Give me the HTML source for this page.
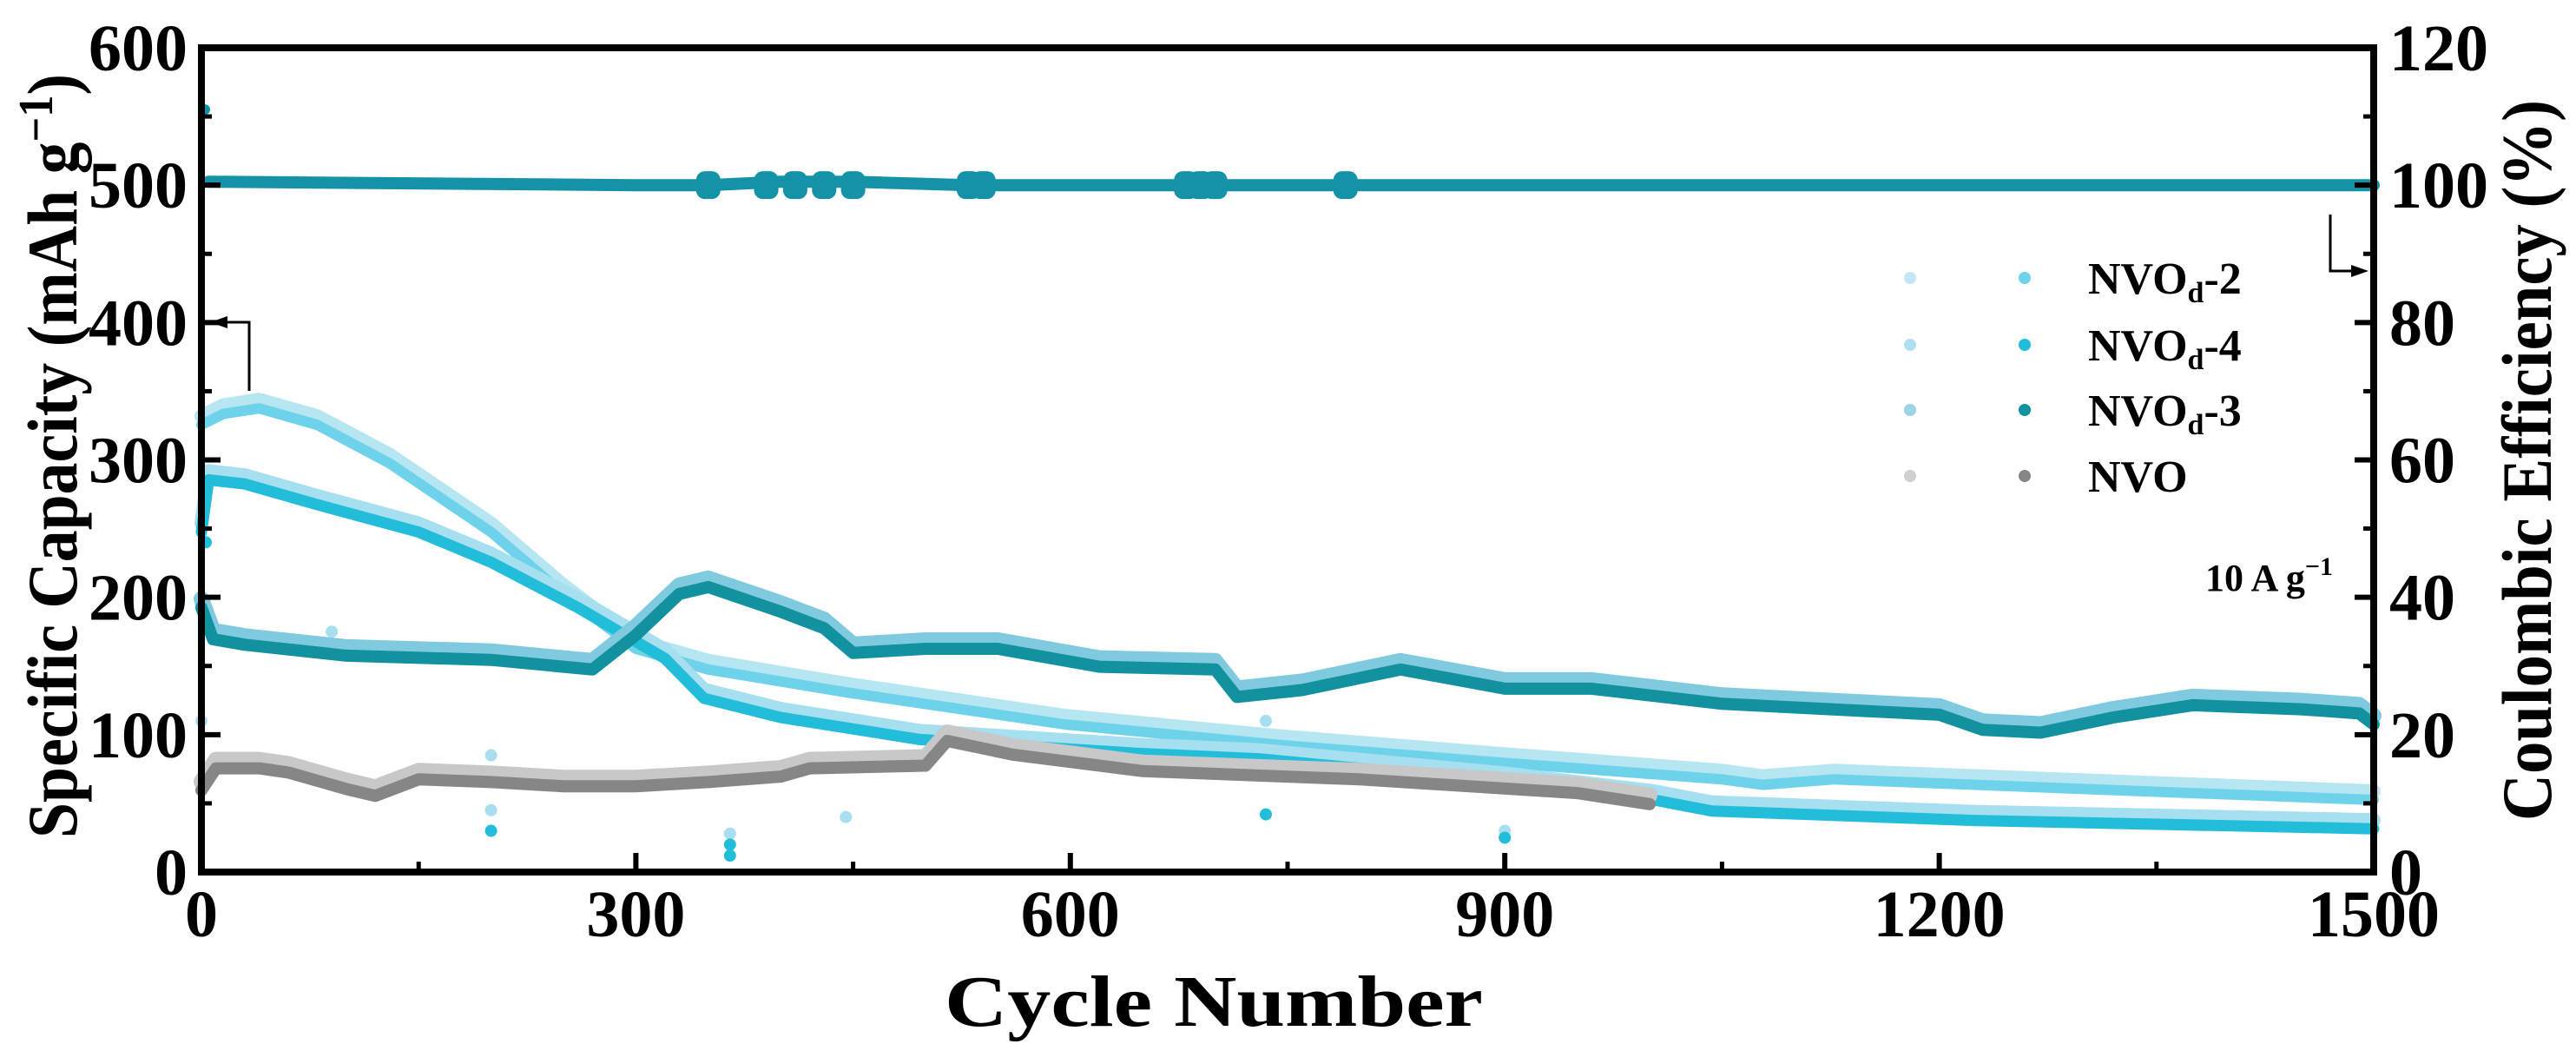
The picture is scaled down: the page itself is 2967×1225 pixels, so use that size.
<!DOCTYPE html>
<html><head><meta charset="utf-8"><style>
html,body{margin:0;padding:0;background:#fff;}
svg{display:block;font-family:"Liberation Serif",serif;}
</style></head><body>
<svg id="chart" width="2967" height="1225" viewBox="0 0 2967 1225" xmlns="http://www.w3.org/2000/svg">
<g id="series"></g>
<g id="axes"></g>
</svg>
<script>
// ---- data ----
const xTicks = [0, 300, 600, 900, 1200, 1500];
const yLeftTicks = [0, 100, 200, 300, 400, 500, 600];
const yRightTicks = [0, 20, 40, 60, 80, 100, 120];

const ceCycles = [0, 5, 300, 350, 400, 450, 530, 690, 1000, 1500];
const ceValues = [111, 100.5, 100, 100, 100.5, 100.5, 100, 100, 100, 100];
const ceBurstCycles = [350, 390, 410, 430, 450, 530, 540, 680, 690, 700, 790];

const nvo2Cycles = [0, 15, 40, 80, 130, 200, 250, 300, 350, 447, 596, 745, 900, 1050, 1078, 1127, 1300, 1500];
const nvo2Values = [328, 336, 340, 328, 300, 250, 205, 165, 150, 133, 110, 95, 82, 70, 66, 70, 63, 55];

const nvo4Cycles = [0, 5, 30, 80, 150, 200, 260, 320, 347, 400, 496, 645, 730, 900, 1003, 1043, 1226, 1500];
const nvo4Values = [250, 288, 285, 270, 250, 228, 195, 158, 129, 115, 99, 89, 85, 68, 55, 47, 40, 34];

const nvo3Cycles = [0, 8, 30, 100, 200, 270, 300, 330, 350, 400, 430, 450, 500, 550, 620, 700, 715, 760, 828, 900, 960, 1050, 1200, 1230, 1270, 1320, 1375, 1450, 1490, 1500];
const nvo3Values = [195, 172, 168, 160, 157, 150, 175, 205, 210, 192, 180, 162, 165, 165, 152, 150, 130, 135, 150, 136, 136, 125, 117, 106, 104, 115, 124, 121, 118, 110];

const nvoCycles = [0, 10, 40, 60, 100, 120, 150, 200, 250, 300, 350, 400, 420, 500, 515, 560, 650, 800, 950, 1000];
const nvoValues = [62, 78, 78, 75, 63, 58, 70, 68, 65, 65, 68, 72, 78, 80, 98, 88, 76, 70, 60, 52];

const outlierLightCycles = [90, 200, 200, 365, 445, 735, 900, 0];
const outlierLightValues = [175, 85, 45, 28, 40, 110, 30, 110];
const outlierBrightCycles = [200, 365, 365, 735, 900, 3];
const outlierBrightValues = [30, 12, 20, 42, 25, 240];

// ---- scales ----
const X0 = 232, X1 = 2734, Y0 = 1004, Y1 = 55;
function sx(c){ return X0 + (X1 - X0) * c / 1500; }
function syL(v){ return Y0 - (Y0 - Y1) * v / 600; }
function syR(v){ return Y0 - (Y0 - Y1) * v / 120; }

const NS = "http://www.w3.org/2000/svg";
const series = document.getElementById('series');
const axes = document.getElementById('axes');
function mk(tag, attrs, parent){
  const e = document.createElementNS(NS, tag);
  for (const k in attrs) e.setAttribute(k, attrs[k]);
  parent.appendChild(e);
  return e;
}
function band(cycles, vals, yf, color, width, dy, name){
  const pts = cycles.map((c,i)=> sx(c).toFixed(1) + ',' + (yf(vals[i]) + dy).toFixed(1)).join(' ');
  const p = mk('polyline', {points: pts, fill:'none', stroke: color, 'stroke-width': width, 'stroke-linejoin':'round', 'stroke-linecap':'round'}, series);
  
  
  return p;
}

// charge (light) tracks then discharge tracks
band(nvo2Cycles, nvo2Values, syL, '#b5e6f2', 16, -6, 'nvod2-charge-series');
band(nvo2Cycles, nvo2Values, syL, '#6ed3ea', 12, 4, 'nvod2-discharge-series');
band(nvo4Cycles, nvo4Values, syL, '#a6dff0', 16, -6, 'nvod4-charge-series');
band(nvo4Cycles, nvo4Values, syL, '#22bdd9', 13, 4, 'nvod4-discharge-series');
band(nvo3Cycles, nvo3Values, syL, '#7fcadf', 18, -6, 'nvod3-charge-series');
band(nvo3Cycles, nvo3Values, syL, '#12919f', 14, 4, 'nvod3-discharge-series');
band(nvoCycles, nvoValues, syL, '#c8c8c8', 18, -6, 'nvo-charge-series');
band(nvoCycles, nvoValues, syL, '#868686', 14, 4, 'nvo-discharge-series');

// CE band
band(ceCycles.slice(1), ceValues.slice(1), syR, '#1493a8', 14, 0, 'coulombic-efficiency-series');
ceBurstCycles.forEach((c)=>{
  const r = mk('rect', {x: sx(c)-14, y: syR(100)-16, width: 28, height: 32, rx: 10, fill:'#1493a8'}, series);
  
  
});
{
  const c = mk('circle', {cx: sx(ceCycles[0])+4, cy: syR(ceValues[0]), r: 6, fill:'#1493a8'}, series);
  
  
}
outlierLightCycles.forEach((c,i)=>{
  const e = mk('circle', {cx: sx(c), cy: syL(outlierLightValues[i]), r: 7, fill:'#a9def0'}, series);
  
  
});
outlierBrightCycles.forEach((c,i)=>{
  const e = mk('circle', {cx: sx(c), cy: syL(outlierBrightValues[i]), r: 7, fill:'#22bdd9'}, series);
  
  
});

// ---- axes ----
{
  const f = mk('rect', {x: X0, y: Y1, width: X1-X0, height: Y0-Y1, fill:'none', stroke:'#000', 'stroke-width': 8}, axes);
  
  
}
xTicks.forEach((t,i)=>{
  const x = sx(t);
  const l = mk('line', {x1:x, x2:x, y1:Y0, y2:Y0-22, stroke:'#000','stroke-width':6}, axes);
  
  
  if (i < xTicks.length-1){
    const xm = sx(t+150);
    const m = mk('line', {x1:xm, x2:xm, y1:Y0, y2:Y0-12, stroke:'#000','stroke-width':5}, axes);
    
    
  }
  const tx = mk('text', {x:x, y:1078, 'font-size':76, 'font-weight':'bold', 'text-anchor':'middle'}, axes);
  tx.textContent = t;
  
  
});
yLeftTicks.forEach((t,i)=>{
  const y = syL(t);
  const l = mk('line', {x1:X0, x2:X0+22, y1:y, y2:y, stroke:'#000','stroke-width':6}, axes);
  
  
  if (i < yLeftTicks.length-1){
    const ym = syL(t+50);
    const m = mk('line', {x1:X0, x2:X0+12, y1:ym, y2:ym, stroke:'#000','stroke-width':5}, axes);
    
    
  }
  const tx = mk('text', {x:216, y:y+26, 'font-size':76, 'font-weight':'bold', 'text-anchor':'end'}, axes);
  tx.textContent = t;
  
  
});
yRightTicks.forEach((t,i)=>{
  const y = syR(t);
  const l = mk('line', {x1:X1, x2:X1-22, y1:y, y2:y, stroke:'#000','stroke-width':6}, axes);
  
  
  if (i < yRightTicks.length-1){
    const ym = syR(t+10);
    const m = mk('line', {x1:X1, x2:X1-12, y1:ym, y2:ym, stroke:'#000','stroke-width':5}, axes);
    
    
  }
  const tx = mk('text', {x:2752, y:y+26, 'font-size':76, 'font-weight':'bold', 'text-anchor':'start'}, axes);
  tx.textContent = t;
  
  
});
</script>
<svg style="position:absolute;left:0;top:0" width="2967" height="1225" viewBox="0 0 2967 1225" xmlns="http://www.w3.org/2000/svg" font-family="Liberation Serif, serif">
  <text x="1398" y="1181" font-size="84" font-weight="bold" text-anchor="middle" textLength="620" lengthAdjust="spacingAndGlyphs">Cycle Number</text>
  <text transform="translate(88,525) rotate(-90)" font-size="82" font-weight="bold" text-anchor="middle" textLength="880" lengthAdjust="spacingAndGlyphs">Specific Capacity (mAh g<tspan dy="-28" font-size="56">−1</tspan><tspan dy="28">)</tspan></text>
  <text transform="translate(2938,530) rotate(-90)" font-size="82" font-weight="bold" text-anchor="middle" textLength="830" lengthAdjust="spacingAndGlyphs">Coulombic Efficiency (%)</text>
  <g stroke="#000" stroke-width="3" fill="none">
    <polyline points="287,450 287,371 250,371"/>
    <polygon points="242,371 262,364 262,378" fill="#000" stroke="none"/>
  </g>
  <g stroke="#000" stroke-width="3" fill="none">
    <polyline points="2684,247 2684,312 2718,312"/>
    <polygon points="2728,312 2708,305 2708,319" fill="#000" stroke="none"/>
  </g>
  <g font-size="52" font-weight="bold">
    <g>
      <circle cx="2200" cy="320" r="7" fill="#c4e8f3"/><circle cx="2332" cy="320" r="7" fill="#6ed3ea"/>
      <text x="2405" y="338">NVO<tspan font-size="34" dy="10">d</tspan><tspan dy="-10">-2</tspan></text>
    </g>
    <g>
      <circle cx="2200" cy="397" r="7" fill="#b0dff0"/><circle cx="2332" cy="397" r="7" fill="#22bdd9"/>
      <text x="2405" y="415">NVO<tspan font-size="34" dy="10">d</tspan><tspan dy="-10">-4</tspan></text>
    </g>
    <g>
      <circle cx="2200" cy="472" r="7" fill="#9dd4ea"/><circle cx="2332" cy="472" r="7" fill="#12919f"/>
      <text x="2405" y="490">NVO<tspan font-size="34" dy="10">d</tspan><tspan dy="-10">-3</tspan></text>
    </g>
    <g>
      <circle cx="2200" cy="548" r="7" fill="#d0d0d0"/><circle cx="2332" cy="548" r="7" fill="#868686"/>
      <text x="2405" y="566">NVO</text>
    </g>
  </g>
  <text x="2540" y="680" font-size="44" font-weight="bold">10 A g<tspan dy="-18" font-size="30">−1</tspan></text>
</svg>
</body></html>
